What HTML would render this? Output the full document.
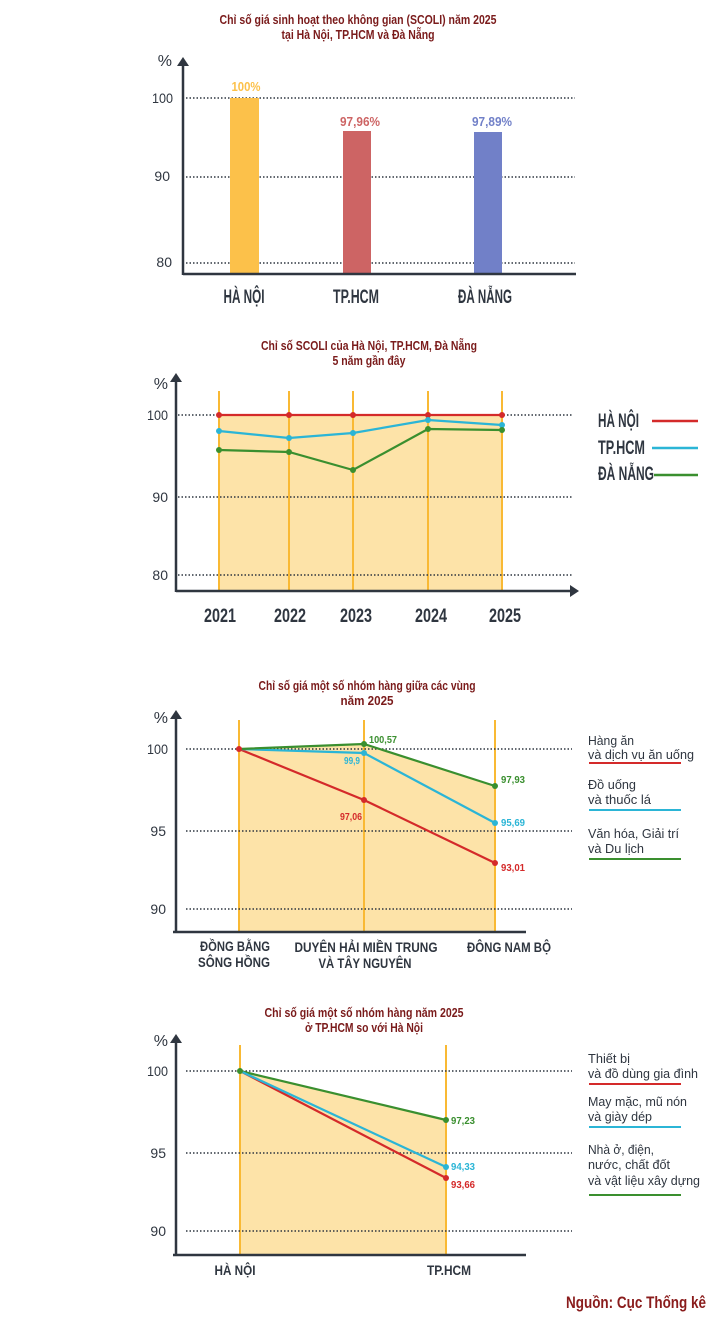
<!DOCTYPE html>
<html><head><meta charset="utf-8"><style>
html,body{margin:0;padding:0;background:#fff;width:720px;height:1330px;overflow:hidden}
svg{display:block}
text{font-family:"Liberation Sans",sans-serif}
.t{fill:#7a1b1b;font-weight:bold;font-size:13px;text-anchor:middle}
.ax{fill:#2f3640;font-size:14px;text-anchor:end}
.cat{fill:#2f3640;font-weight:bold;font-size:19px;text-anchor:middle}
.cat2{fill:#2f3640;font-weight:bold;font-size:14px;text-anchor:middle}
.lg{fill:#2f3640;font-size:13px}
.g{stroke:#2f3640;stroke-width:1.4;stroke-dasharray:1.5 2}
.v{stroke:#f9b934;stroke-width:2}
.sm{font-size:10px;font-weight:bold}
</style></head><body>
<svg width="720" height="1330" viewBox="0 0 720 1330">
<!-- Chart 1 -->
<text class="t" x="358" y="24" textLength="277" lengthAdjust="spacingAndGlyphs">Chỉ số giá sinh hoạt theo không gian (SCOLI) năm 2025</text>
<text class="t" x="358" y="39" textLength="153" lengthAdjust="spacingAndGlyphs">tại Hà Nội, TP.HCM và Đà Nẵng</text>
<text class="ax" x="172" y="66" style="font-size:16px">%</text>
<line class="g" x1="186" y1="98" x2="575" y2="98"/>
<line class="g" x1="186" y1="177" x2="575" y2="177"/>
<line class="g" x1="186" y1="263" x2="575" y2="263"/>
<text class="ax" x="173" y="103" textLength="21" lengthAdjust="spacingAndGlyphs">100</text>
<text class="ax" x="170" y="181">90</text>
<text class="ax" x="172" y="267">80</text>
<rect x="230" y="98" width="29" height="175" fill="#fcc14a"/>
<rect x="343" y="131" width="28" height="142" fill="#cd6464"/>
<rect x="474" y="132" width="28" height="141" fill="#7180c8"/>
<text x="246" y="91" fill="#fcc14a" font-size="13" font-weight="bold" text-anchor="middle" textLength="29" lengthAdjust="spacingAndGlyphs">100%</text>
<text x="360" y="126" fill="#cd6464" font-size="13" font-weight="bold" text-anchor="middle" textLength="40" lengthAdjust="spacingAndGlyphs">97,96%</text>
<text x="492" y="126" fill="#7180c8" font-size="13" font-weight="bold" text-anchor="middle" textLength="40" lengthAdjust="spacingAndGlyphs">97,89%</text>
<line x1="183" y1="274" x2="576" y2="274" stroke="#2f3640" stroke-width="2.5"/>
<line x1="183" y1="64" x2="183" y2="275" stroke="#2f3640" stroke-width="2.5"/>
<polygon points="177,66 183,57 189,66" fill="#2f3640"/>
<text class="cat" x="244" y="303" textLength="41" lengthAdjust="spacingAndGlyphs">HÀ NỘI</text>
<text class="cat" x="356" y="303" textLength="46" lengthAdjust="spacingAndGlyphs">TP.HCM</text>
<text class="cat" x="485" y="303" textLength="54" lengthAdjust="spacingAndGlyphs">ĐÀ NẴNG</text>

<!-- Chart 2 -->
<text class="t" x="369" y="350" textLength="216" lengthAdjust="spacingAndGlyphs">Chỉ số SCOLI của Hà Nội, TP.HCM, Đà Nẵng</text>
<text class="t" x="369" y="365" textLength="73" lengthAdjust="spacingAndGlyphs">5 năm gần đây</text>
<rect x="219" y="415" width="283" height="175" fill="#fde3a8"/>
<line class="v" x1="219" y1="391" x2="219" y2="590"/>
<line class="v" x1="289" y1="391" x2="289" y2="590"/>
<line class="v" x1="353" y1="391" x2="353" y2="590"/>
<line class="v" x1="428" y1="391" x2="428" y2="590"/>
<line class="v" x1="502" y1="391" x2="502" y2="590"/>
<line class="g" x1="178" y1="415" x2="572" y2="415"/>
<line class="g" x1="178" y1="497" x2="572" y2="497"/>
<line class="g" x1="178" y1="575" x2="572" y2="575"/>
<text class="ax" x="168" y="389" style="font-size:16px">%</text>
<text class="ax" x="168" y="420" textLength="21" lengthAdjust="spacingAndGlyphs">100</text>
<text class="ax" x="168" y="502">90</text>
<text class="ax" x="168" y="580">80</text>
<g fill="none" stroke-width="2.2">
<polyline stroke="#d42a2a" points="219,415 289,415 353,415 428,415 502,415"/>
<polyline stroke="#2bb5d6" points="219,431 289,438 353,433 428,420 502,425"/>
<polyline stroke="#3a8f2f" points="219,450 289,452 353,470 428,429 502,430"/>
</g>
<g fill="#d42a2a"><circle cx="219" cy="415" r="3"/><circle cx="289" cy="415" r="3"/><circle cx="353" cy="415" r="3"/><circle cx="428" cy="415" r="3"/><circle cx="502" cy="415" r="3"/></g>
<g fill="#2bb5d6"><circle cx="219" cy="431" r="3"/><circle cx="289" cy="438" r="3"/><circle cx="353" cy="433" r="3"/><circle cx="428" cy="420" r="3"/><circle cx="502" cy="425" r="3"/></g>
<g fill="#3a8f2f"><circle cx="219" cy="450" r="3"/><circle cx="289" cy="452" r="3"/><circle cx="353" cy="470" r="3"/><circle cx="428" cy="429" r="3"/><circle cx="502" cy="430" r="3"/></g>
<line x1="176" y1="591" x2="572" y2="591" stroke="#2f3640" stroke-width="2.5"/>
<polygon points="570,585 579,591 570,597" fill="#2f3640"/>
<line x1="176" y1="380" x2="176" y2="592" stroke="#2f3640" stroke-width="2.5"/>
<polygon points="170,382 176,373 182,382" fill="#2f3640"/>
<text class="cat" x="220" y="622" textLength="32" lengthAdjust="spacingAndGlyphs">2021</text>
<text class="cat" x="290" y="622" textLength="32" lengthAdjust="spacingAndGlyphs">2022</text>
<text class="cat" x="356" y="622" textLength="32" lengthAdjust="spacingAndGlyphs">2023</text>
<text class="cat" x="431" y="622" textLength="32" lengthAdjust="spacingAndGlyphs">2024</text>
<text class="cat" x="505" y="622" textLength="32" lengthAdjust="spacingAndGlyphs">2025</text>
<text class="cat" x="598" y="427" style="text-anchor:start" textLength="41" lengthAdjust="spacingAndGlyphs">HÀ NỘI</text>
<text class="cat" x="598" y="454" style="text-anchor:start" textLength="47" lengthAdjust="spacingAndGlyphs">TP.HCM</text>
<text class="cat" x="598" y="480" style="text-anchor:start" textLength="56" lengthAdjust="spacingAndGlyphs">ĐÀ NẴNG</text>
<line x1="652" y1="421" x2="698" y2="421" stroke="#d42a2a" stroke-width="2.5"/>
<line x1="652" y1="448" x2="698" y2="448" stroke="#2bb5d6" stroke-width="2.5"/>
<line x1="654" y1="475" x2="698" y2="475" stroke="#3a8f2f" stroke-width="2.5"/>

<!-- Chart 3 -->
<text class="t" x="367" y="690" textLength="217" lengthAdjust="spacingAndGlyphs">Chỉ số giá một số nhóm hàng giữa các vùng</text>
<text class="t" x="367" y="705" textLength="53" lengthAdjust="spacingAndGlyphs">năm 2025</text>
<polygon points="239,749 364,744 495,786 495,932 239,932" fill="#fde3a8"/>
<line class="v" x1="239" y1="720" x2="239" y2="932"/>
<line class="v" x1="364" y1="720" x2="364" y2="932"/>
<line class="v" x1="495" y1="720" x2="495" y2="932"/>
<line class="g" x1="186" y1="749" x2="572" y2="749"/>
<line class="g" x1="186" y1="831" x2="572" y2="831"/>
<line class="g" x1="186" y1="909" x2="572" y2="909"/>
<text class="ax" x="168" y="723" style="font-size:16px">%</text>
<text class="ax" x="168" y="754" textLength="21" lengthAdjust="spacingAndGlyphs">100</text>
<text class="ax" x="166" y="836">95</text>
<text class="ax" x="166" y="914">90</text>
<g fill="none" stroke-width="2.2">
<polyline stroke="#d42a2a" points="239,749 364,800 495,863"/>
<polyline stroke="#2bb5d6" points="239,749 364,753 495,823"/>
<polyline stroke="#3a8f2f" points="239,749 364,744 495,786"/>
</g>
<circle cx="239" cy="749" r="3" fill="#d42a2a"/>
<circle cx="364" cy="800" r="3" fill="#d42a2a"/><circle cx="495" cy="863" r="3" fill="#d42a2a"/>
<circle cx="364" cy="753" r="3" fill="#2bb5d6"/><circle cx="495" cy="823" r="3" fill="#2bb5d6"/>
<circle cx="364" cy="744" r="3" fill="#3a8f2f"/><circle cx="495" cy="786" r="3" fill="#3a8f2f"/>
<text class="sm" x="369" y="743" fill="#3a8f2f" textLength="28" lengthAdjust="spacingAndGlyphs">100,57</text>
<text class="sm" x="344" y="764" fill="#2bb5d6" textLength="16" lengthAdjust="spacingAndGlyphs">99,9</text>
<text class="sm" x="340" y="820" fill="#d42a2a" textLength="22" lengthAdjust="spacingAndGlyphs">97,06</text>
<text class="sm" x="501" y="783" fill="#3a8f2f" textLength="24" lengthAdjust="spacingAndGlyphs">97,93</text>
<text class="sm" x="501" y="826" fill="#2bb5d6" textLength="24" lengthAdjust="spacingAndGlyphs">95,69</text>
<text class="sm" x="501" y="871" fill="#d42a2a" textLength="24" lengthAdjust="spacingAndGlyphs">93,01</text>
<line x1="173" y1="932" x2="526" y2="932" stroke="#2f3640" stroke-width="2.5"/>
<line x1="176" y1="718" x2="176" y2="933" stroke="#2f3640" stroke-width="2.5"/>
<polygon points="170,719 176,710 182,719" fill="#2f3640"/>
<text class="cat2" x="235" y="951" textLength="70" lengthAdjust="spacingAndGlyphs">ĐỒNG BẰNG</text>
<text class="cat2" x="234" y="967" textLength="72" lengthAdjust="spacingAndGlyphs">SÔNG HỒNG</text>
<text class="cat2" x="366" y="952" textLength="143" lengthAdjust="spacingAndGlyphs">DUYÊN HẢI MIỀN TRUNG</text>
<text class="cat2" x="365" y="968" textLength="93" lengthAdjust="spacingAndGlyphs">VÀ TÂY NGUYÊN</text>
<text class="cat2" x="509" y="952" textLength="84" lengthAdjust="spacingAndGlyphs">ĐÔNG NAM BỘ</text>
<text class="lg" x="588" y="745" textLength="46" lengthAdjust="spacingAndGlyphs">Hàng ăn</text>
<text class="lg" x="588" y="759" textLength="106" lengthAdjust="spacingAndGlyphs">và dịch vụ ăn uống</text>
<line x1="589" y1="763" x2="681" y2="763" stroke="#d42a2a" stroke-width="2"/>
<text class="lg" x="588" y="789" textLength="48" lengthAdjust="spacingAndGlyphs">Đồ uống</text>
<text class="lg" x="588" y="804" textLength="63" lengthAdjust="spacingAndGlyphs">và thuốc lá</text>
<line x1="589" y1="810" x2="681" y2="810" stroke="#2bb5d6" stroke-width="2"/>
<text class="lg" x="588" y="838" textLength="91" lengthAdjust="spacingAndGlyphs">Văn hóa, Giải trí</text>
<text class="lg" x="588" y="853" textLength="56" lengthAdjust="spacingAndGlyphs">và Du lịch</text>
<line x1="589" y1="859" x2="681" y2="859" stroke="#3a8f2f" stroke-width="2"/>

<!-- Chart 4 -->
<text class="t" x="364" y="1017" textLength="199" lengthAdjust="spacingAndGlyphs">Chỉ số giá một số nhóm hàng năm 2025</text>
<text class="t" x="364" y="1032" textLength="118" lengthAdjust="spacingAndGlyphs">ở TP.HCM so với Hà Nội</text>
<polygon points="240,1071 446,1120 446,1255 240,1255" fill="#fde3a8"/>
<line class="v" x1="240" y1="1045" x2="240" y2="1255"/>
<line class="v" x1="446" y1="1045" x2="446" y2="1255"/>
<line class="g" x1="186" y1="1071" x2="572" y2="1071"/>
<line class="g" x1="186" y1="1153" x2="572" y2="1153"/>
<line class="g" x1="186" y1="1231" x2="572" y2="1231"/>
<text class="ax" x="168" y="1046" style="font-size:16px">%</text>
<text class="ax" x="168" y="1076" textLength="21" lengthAdjust="spacingAndGlyphs">100</text>
<text class="ax" x="166" y="1158">95</text>
<text class="ax" x="166" y="1236">90</text>
<g fill="none" stroke-width="2.2">
<polyline stroke="#3a8f2f" points="240,1071 446,1120"/>
<polyline stroke="#d42a2a" points="240,1071 446,1178"/>
<polyline stroke="#2bb5d6" points="240,1071 446,1167"/>
</g>
<circle cx="240" cy="1071" r="3" fill="#3a8f2f"/>
<circle cx="446" cy="1120" r="3" fill="#3a8f2f"/>
<circle cx="446" cy="1167" r="3" fill="#2bb5d6"/>
<circle cx="446" cy="1178" r="3" fill="#d42a2a"/>
<text class="sm" x="451" y="1136" fill="#3a8f2f" textLength="24" lengthAdjust="spacingAndGlyphs" transform="translate(0,-12)">97,23</text>
<text class="sm" x="451" y="1170" fill="#2bb5d6" textLength="24" lengthAdjust="spacingAndGlyphs">94,33</text>
<text class="sm" x="451" y="1188" fill="#d42a2a" textLength="24" lengthAdjust="spacingAndGlyphs">93,66</text>
<line x1="173" y1="1255" x2="526" y2="1255" stroke="#2f3640" stroke-width="2.5"/>
<line x1="176" y1="1042" x2="176" y2="1256" stroke="#2f3640" stroke-width="2.5"/>
<polygon points="170,1043 176,1034 182,1043" fill="#2f3640"/>
<text class="cat2" x="235" y="1275" textLength="41" lengthAdjust="spacingAndGlyphs">HÀ NỘI</text>
<text class="cat2" x="449" y="1275" textLength="44" lengthAdjust="spacingAndGlyphs">TP.HCM</text>
<text class="lg" x="588" y="1063" textLength="42" lengthAdjust="spacingAndGlyphs">Thiết bị</text>
<text class="lg" x="588" y="1078" textLength="110" lengthAdjust="spacingAndGlyphs">và đồ dùng gia đình</text>
<line x1="589" y1="1084" x2="681" y2="1084" stroke="#d42a2a" stroke-width="2"/>
<text class="lg" x="588" y="1106" textLength="99" lengthAdjust="spacingAndGlyphs">May mặc, mũ nón</text>
<text class="lg" x="588" y="1121" textLength="64" lengthAdjust="spacingAndGlyphs">và giày dép</text>
<line x1="589" y1="1127" x2="681" y2="1127" stroke="#2bb5d6" stroke-width="2"/>
<text class="lg" x="588" y="1154" textLength="66" lengthAdjust="spacingAndGlyphs">Nhà ở, điện,</text>
<text class="lg" x="588" y="1169" textLength="82" lengthAdjust="spacingAndGlyphs">nước, chất đốt</text>
<text class="lg" x="588" y="1185" textLength="112" lengthAdjust="spacingAndGlyphs">và vật liệu xây dựng</text>
<line x1="589" y1="1195" x2="681" y2="1195" stroke="#3a8f2f" stroke-width="2"/>
<text x="706" y="1308" fill="#8a1c1c" font-weight="bold" font-size="17" text-anchor="end" textLength="140" lengthAdjust="spacingAndGlyphs">Nguồn: Cục Thống kê</text>
</svg>
</body></html>
